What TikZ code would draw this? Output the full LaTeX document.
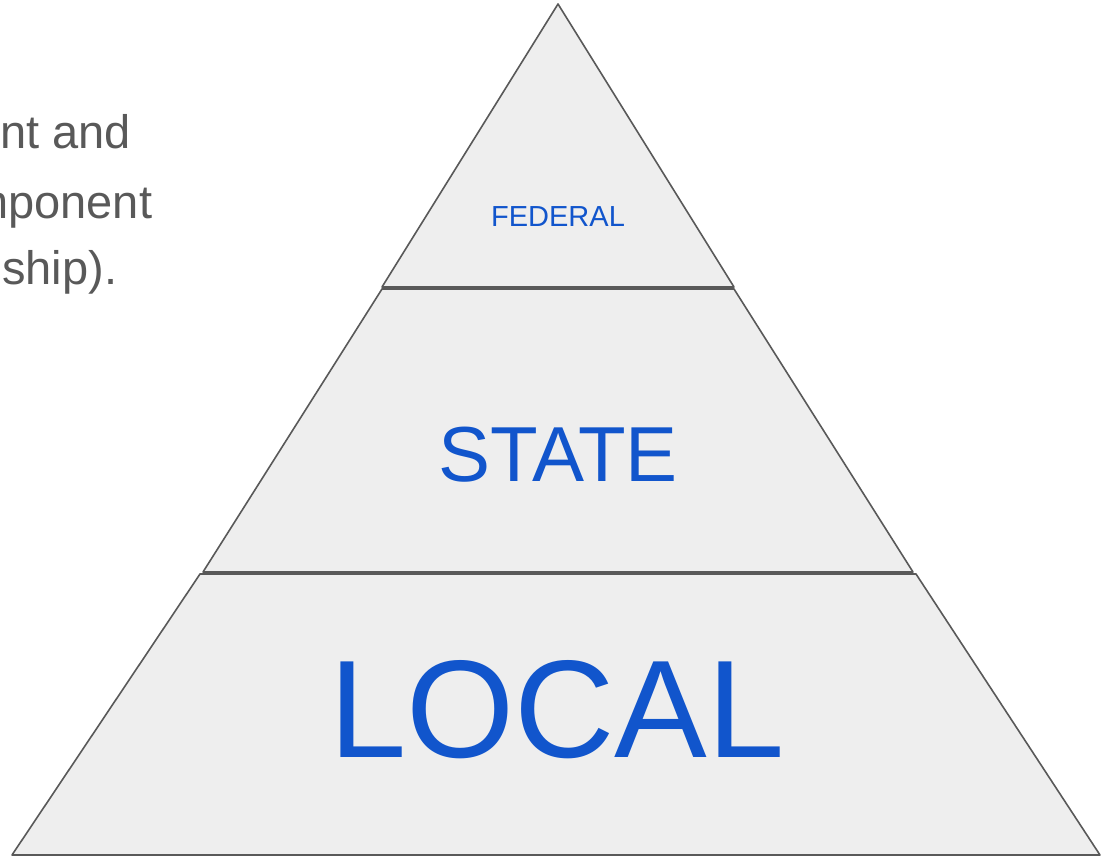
\documentclass[tikz,border=0pt]{standalone}
\usepackage{fontspec}
\setmainfont{Liberation Sans}
\usetikzlibrary{positioning}
\definecolor{tierfill}{HTML}{EEEEEE}
\definecolor{tierline}{HTML}{595959}
\definecolor{tierblue}{HTML}{1155CC}
\definecolor{notegray}{HTML}{595959}

\begin{document}
\begin{tikzpicture}[x=1pt, y=-1pt,
    tier/.style={fill=tierfill, draw=tierline, line width=1.6pt, line join=round},
    tierlabel/.style={text=tierblue, inner sep=0pt},
    note/.style={text=notegray, anchor=base west, inner sep=0pt,
      font=\fontsize{47}{56}\selectfont}]
  \useasboundingbox (0,0) rectangle (1101,857);
  \clip (0,0) rectangle (1101,857);

  % Clipped note on the left
  \node[note] (noteA) at (0,148) {nt and};
  \node[note] (noteB) at (-31,218) {mponent};
  \node[note] (noteC) at (2,284) {ship).};

  % Pyramid tiers
  \draw[tier] (558,4) -- (734,287) -- (382,287) -- cycle;
  \draw[tier] (382,289) -- (734,289) -- (913,572) -- (203,572) -- cycle;
  \draw[tier] (200,574) -- (916,574) -- (1100,855) -- (12,855) -- cycle;

  % Tier labels
  \node[tierlabel, font=\fontsize{29}{34}\selectfont] (federal) at (558,217) {FEDERAL};
  \node[tierlabel, font=\fontsize{78}{92}\selectfont] (state) at (558,455) {STATE};
  \node[tierlabel, font=\fontsize{139}{165}\selectfont] (local) at (557,710) {LOCAL};
\end{tikzpicture}
\end{document}
